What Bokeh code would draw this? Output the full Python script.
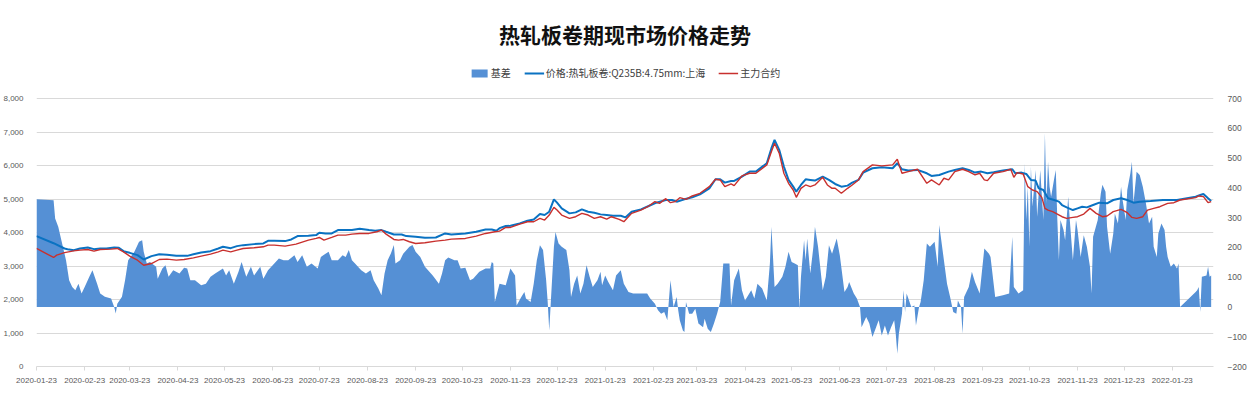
import pandas as pd
from bokeh.plotting import figure
from bokeh.models import (Range1d, LinearAxis, FixedTicker, NumeralTickFormatter,
                          DatetimeTickFormatter, Legend, LegendItem, Label, ColumnDataSource)
from bokeh.embed import file_html
from bokeh.resources import INLINE

title_text = "热轧板卷期现市场价格走势"
basis_label = "基差"
spot_label = "价格:热轧板卷:Q235B:4.75mm:上海"
fut_label = "主力合约"

basis_dates = [
    "2020-01-23", "2020-02-03", "2020-02-04", "2020-02-06", "2020-02-08", "2020-02-11", "2020-02-13", "2020-02-15",
    "2020-02-17", "2020-02-19", "2020-02-21", "2020-02-23", "2020-02-26", "2020-02-28", "2020-03-02", "2020-03-04",
    "2020-03-07", "2020-03-11", "2020-03-13", "2020-03-14", "2020-03-15", "2020-03-18", "2020-03-20", "2020-03-22",
    "2020-03-26", "2020-03-29", "2020-03-31", "2020-04-01", "2020-04-03", "2020-04-05", "2020-04-09", "2020-04-10",
    "2020-04-13", "2020-04-15", "2020-04-17", "2020-04-20", "2020-04-24", "2020-04-27", "2020-04-29", "2020-05-01",
    "2020-05-04", "2020-05-08", "2020-05-11", "2020-05-14", "2020-05-17", "2020-05-22", "2020-05-24", "2020-05-26",
    "2020-05-29", "2020-06-01", "2020-06-03", "2020-06-06", "2020-06-09", "2020-06-11", "2020-06-15", "2020-06-17",
    "2020-06-20", "2020-06-23", "2020-06-27", "2020-06-30", "2020-07-03", "2020-07-07", "2020-07-09", "2020-07-12",
    "2020-07-15", "2020-07-18", "2020-07-22", "2020-07-24", "2020-07-27", "2020-07-29", "2020-07-31", "2020-08-04",
    "2020-08-07", "2020-08-09", "2020-08-11", "2020-08-13", "2020-08-15", "2020-08-19", "2020-08-22", "2020-08-25",
    "2020-08-27", "2020-08-30", "2020-09-01", "2020-09-03", "2020-09-05", "2020-09-07", "2020-09-09", "2020-09-10",
    "2020-09-13", "2020-09-15", "2020-09-19", "2020-09-21", "2020-09-23", "2020-09-26", "2020-09-29", "2020-10-04",
    "2020-10-08", "2020-10-10", "2020-10-12", "2020-10-14", "2020-10-18", "2020-10-20", "2020-10-22", "2020-10-25",
    "2020-10-28", "2020-10-30", "2020-11-03", "2020-11-07", "2020-11-10", "2020-11-11", "2020-11-12", "2020-11-13",
    "2020-11-16", "2020-11-20", "2020-11-23", "2020-11-26", "2020-11-27", "2020-11-30", "2020-12-02", "2020-12-03",
    "2020-12-06", "2020-12-08", "2020-12-10", "2020-12-12", "2020-12-14", "2020-12-16", "2020-12-17", "2020-12-18",
    "2020-12-19", "2020-12-21", "2020-12-22", "2020-12-24", "2020-12-26", "2020-12-29", "2020-12-31", "2021-01-01",
    "2021-01-03", "2021-01-05", "2021-01-07", "2021-01-09", "2021-01-11", "2021-01-13", "2021-01-15", "2021-01-18",
    "2021-01-20", "2021-01-21", "2021-01-23", "2021-01-25", "2021-01-28", "2021-01-30", "2021-02-02", "2021-02-04",
    "2021-02-07", "2021-02-10", "2021-02-19", "2021-02-21", "2021-02-24", "2021-02-26", "2021-02-28", "2021-03-02",
    "2021-03-04", "2021-03-06", "2021-03-07", "2021-03-08", "2021-03-10", "2021-03-11", "2021-03-12", "2021-03-14",
    "2021-03-15", "2021-03-16", "2021-03-18", "2021-03-20", "2021-03-22", "2021-03-24", "2021-03-27", "2021-03-28",
    "2021-03-30", "2021-04-01", "2021-04-03", "2021-04-05", "2021-04-07", "2021-04-09", "2021-04-13", "2021-04-14",
    "2021-04-16", "2021-04-19", "2021-04-21", "2021-04-23", "2021-04-27", "2021-04-29", "2021-05-01", "2021-05-04",
    "2021-05-07", "2021-05-09", "2021-05-10", "2021-05-12", "2021-05-14", "2021-05-17", "2021-05-19", "2021-05-21",
    "2021-05-23", "2021-05-25", "2021-05-27", "2021-05-28", "2021-05-29", "2021-05-31", "2021-06-01", "2021-06-02",
    "2021-06-04", "2021-06-06", "2021-06-07", "2021-06-09", "2021-06-12", "2021-06-14", "2021-06-16", "2021-06-18",
    "2021-06-20", "2021-06-21", "2021-06-23", "2021-06-26", "2021-06-28", "2021-06-29", "2021-07-02", "2021-07-04",
    "2021-07-06", "2021-07-07", "2021-07-10", "2021-07-12", "2021-07-14", "2021-07-16", "2021-07-18", "2021-07-20",
    "2021-07-22", "2021-07-24", "2021-07-26", "2021-07-28", "2021-07-29", "2021-07-30", "2021-07-31", "2021-08-02",
    "2021-08-03", "2021-08-04", "2021-08-05", "2021-08-08", "2021-08-10", "2021-08-11", "2021-08-13", "2021-08-14",
    "2021-08-16", "2021-08-18", "2021-08-20", "2021-08-23", "2021-08-25", "2021-08-26", "2021-08-29", "2021-08-31",
    "2021-09-02", "2021-09-04", "2021-09-06", "2021-09-07", "2021-09-09", "2021-09-10", "2021-09-11", "2021-09-14",
    "2021-09-16", "2021-09-18", "2021-09-21", "2021-09-24", "2021-09-27", "2021-09-28", "2021-09-30", "2021-10-01",
    "2021-10-06", "2021-10-10", "2021-10-12", "2021-10-13", "2021-10-16", "2021-10-19", "2021-10-20", "2021-10-21",
    "2021-10-22", "2021-10-23", "2021-10-24", "2021-10-25", "2021-10-27", "2021-10-28", "2021-10-30", "2021-11-01",
    "2021-11-02", "2021-11-03", "2021-11-04", "2021-11-05", "2021-11-06", "2021-11-08", "2021-11-09", "2021-11-10",
    "2021-11-11", "2021-11-12", "2021-11-14", "2021-11-15", "2021-11-17", "2021-11-18", "2021-11-20", "2021-11-21",
    "2021-11-22", "2021-11-23", "2021-11-25", "2021-11-27", "2021-11-29", "2021-12-01", "2021-12-02", "2021-12-03",
    "2021-12-06", "2021-12-08", "2021-12-09", "2021-12-11", "2021-12-12", "2021-12-14", "2021-12-16", "2021-12-17",
    "2021-12-19", "2021-12-21", "2021-12-22", "2021-12-24", "2021-12-25", "2021-12-27", "2021-12-28", "2021-12-29",
    "2021-12-31", "2022-01-02", "2022-01-04", "2022-01-06", "2022-01-08", "2022-01-10", "2022-01-11", "2022-01-13",
    "2022-01-14", "2022-01-16", "2022-01-18", "2022-01-19", "2022-01-20", "2022-01-22", "2022-01-24", "2022-01-26",
    "2022-01-27", "2022-01-28", "2022-02-07", "2022-02-08", "2022-02-09", "2022-02-10", "2022-02-11", "2022-02-14",
    "2022-02-15", "2022-02-16", "2022-02-17",
]
basis_values = [
    362, 358, 297, 269, 224, 157, 90, 67,
    56, 78, 45, 67, 101, 123, 78, 45,
    34, 28, 0, -22, 11, 34, 90, 157,
    185, 219, 224, 185, 146, 151, 135, 95,
    129, 140, 101, 123, 112, 132, 129, 90,
    90, 73, 78, 101, 112, 129, 106, 123,
    78, 118, 151, 101, 135, 106, 135, 95,
    123, 140, 163, 157, 157, 174, 151, 174,
    135, 146, 129, 168, 179, 185, 157, 157,
    174, 168, 191, 157, 146, 123, 112, 123,
    90, 62, 39, 112, 157, 179, 208, 146,
    157, 179, 202, 208, 185, 168, 135, 106,
    78, 112, 157, 166, 157, 157, 129, 132,
    90, 95, 118, 129, 129, 151, 146, 17,
    78, 73, 129, 106, 5, 33, 50, 28,
    17, 78, 157, 207, 191, 90, 17, -79,
    17, 202, 252, 213, 202, 191, 123, 33,
    78, 106, 45, 78, 140, 101, 67, 90,
    118, 73, 106, 84, 56, 106, 123, 78,
    50, 45, 45, 28, 11, -11, -23, -17,
    -45, 90, 45, 0, 33, -11, -45, -79,
    -84, 17, -23, -23, -6, -56, -68, -40,
    -73, -84, -56, -23, 17, 146, 146, 5,
    90, 129, 56, 22, 56, 28, 78, 62,
    22, 146, 269, 67, 78, 101, 135, 185,
    151, 146, 140, -8, 101, 224, 157, 230,
    112, 202, 269, 202, 56, 101, 207, 179,
    213, 230, 174, 50, 67, 84, 45, 28,
    0, -68, -34, -56, -101, -73, -45, -96,
    -62, -96, -68, -45, -90, -157, -90, -23,
    56, -17, 45, 0, 5, -62, 0, 17,
    90, 213, 202, 219, 135, 275, 157, 78,
    33, -17, -23, 22, 0, -90, 33, 67,
    118, 84, 45, 196, 179, 168, 78, 33,
    39, 45, 236, 67, 45, 56, 482, 292,
    404, 202, 471, 337, 460, 303, 460, 292,
    584, 348, 488, 404, 370, 432, 460, 292,
    157, 292, 258, 224, 370, 292, 157, 224,
    292, 258, 168, 241, 202, 135, 45, 236,
    292, 382, 410, 387, 269, 179, 247, 314,
    280, 404, 359, 292, 393, 449, 488, 348,
    454, 443, 404, 348, 280, 303, 202, 168,
    247, 280, 258, 202, 168, 135, 146, 129,
    146, 0, 50, 56, 67, -17, 101, 106,
    135, 101, 106,
]

spot_dates = [
    "2020-01-23", "2020-02-03", "2020-02-10", "2020-02-12", "2020-02-16", "2020-02-20", "2020-02-25", "2020-02-29",
    "2020-03-04", "2020-03-08", "2020-03-13", "2020-03-16", "2020-03-19", "2020-03-23", "2020-03-28", "2020-04-01",
    "2020-04-06", "2020-04-11", "2020-04-16", "2020-04-22", "2020-04-29", "2020-05-03", "2020-05-08", "2020-05-14",
    "2020-05-19", "2020-05-22", "2020-05-27", "2020-05-31", "2020-06-04", "2020-06-11", "2020-06-17", "2020-06-20",
    "2020-06-24", "2020-07-01", "2020-07-05", "2020-07-09", "2020-07-16", "2020-07-21", "2020-07-23", "2020-07-27",
    "2020-07-31", "2020-08-04", "2020-08-09", "2020-08-13", "2020-08-18", "2020-08-24", "2020-08-28", "2020-09-01",
    "2020-09-04", "2020-09-09", "2020-09-14", "2020-09-17", "2020-09-23", "2020-09-29", "2020-10-06", "2020-10-12",
    "2020-10-16", "2020-10-25", "2020-11-01", "2020-11-07", "2020-11-11", "2020-11-14", "2020-11-16", "2020-11-20",
    "2020-11-23", "2020-11-29", "2020-12-04", "2020-12-08", "2020-12-12", "2020-12-15", "2020-12-18", "2020-12-21",
    "2020-12-23", "2020-12-26", "2020-12-31", "2021-01-04", "2021-01-08", "2021-01-12", "2021-01-16", "2021-01-20",
    "2021-01-24", "2021-01-28", "2021-02-02", "2021-02-05", "2021-02-09", "2021-02-15", "2021-02-20", "2021-02-25",
    "2021-03-03", "2021-03-07", "2021-03-10", "2021-03-15", "2021-03-20", "2021-03-25", "2021-03-31", "2021-04-04",
    "2021-04-07", "2021-04-10", "2021-04-14", "2021-04-16", "2021-04-21", "2021-04-26", "2021-04-30", "2021-05-07",
    "2021-05-10", "2021-05-12", "2021-05-15", "2021-05-18", "2021-05-21", "2021-05-24", "2021-05-26", "2021-05-29",
    "2021-06-01", "2021-06-04", "2021-06-07", "2021-06-12", "2021-06-16", "2021-06-20", "2021-06-24", "2021-06-28",
    "2021-07-01", "2021-07-05", "2021-07-08", "2021-07-14", "2021-07-20", "2021-07-27", "2021-07-30", "2021-08-02",
    "2021-08-06", "2021-08-12", "2021-08-18", "2021-08-21", "2021-08-26", "2021-09-01", "2021-09-05", "2021-09-10",
    "2021-09-14", "2021-09-18", "2021-09-22", "2021-09-26", "2021-09-30", "2021-10-06", "2021-10-12", "2021-10-14",
    "2021-10-18", "2021-10-21", "2021-10-24", "2021-10-27", "2021-10-29", "2021-11-01", "2021-11-04", "2021-11-08",
    "2021-11-11", "2021-11-13", "2021-11-16", "2021-11-20", "2021-11-23", "2021-11-26", "2021-11-29", "2021-12-03",
    "2021-12-07", "2021-12-12", "2021-12-16", "2021-12-21", "2021-12-25", "2021-12-29", "2022-01-02", "2022-01-09",
    "2022-01-17", "2022-01-26", "2022-02-07", "2022-02-10", "2022-02-12", "2022-02-15", "2022-02-17",
]
spot_values = [
    3892, 3680, 3523, 3503, 3473, 3523, 3553, 3503,
    3523, 3523, 3553, 3543, 3443, 3393, 3324, 3194,
    3294, 3353, 3334, 3303, 3303, 3353, 3403, 3443,
    3523, 3573, 3533, 3593, 3623, 3653, 3673, 3753,
    3753, 3743, 3793, 3892, 3902, 3922, 3992, 3972,
    3972, 4072, 4072, 4072, 4112, 4072, 4052, 4072,
    4022, 3942, 3942, 3892, 3872, 3842, 3852, 3972,
    3942, 3972, 4022, 4092, 4092, 4052, 4130, 4192,
    4200, 4271, 4351, 4391, 4551, 4521, 4621, 4990,
    4890, 4720, 4571, 4601, 4690, 4621, 4591, 4541,
    4521, 4501, 4501, 4451, 4621, 4690, 4790, 4890,
    4970, 4970, 4920, 4990, 5050, 5140, 5319, 5589,
    5589, 5489, 5539, 5539, 5668, 5818, 5818, 6068,
    6517, 6766, 6467, 5968, 5569, 5369, 5219, 5419,
    5589, 5569, 5549, 5668, 5569, 5449, 5369, 5399,
    5489, 5569, 5788, 5918, 5948, 5918, 6068, 5888,
    5848, 5868, 5768, 5688, 5718, 5818, 5868, 5918,
    5868, 5788, 5818, 5768, 5798, 5848, 5888, 5768,
    5788, 5748, 5569, 5549, 5319, 5269, 5020, 4970,
    4920, 4820, 4750, 4670, 4720, 4770, 4750, 4820,
    4890, 4870, 4970, 5020, 4970, 4890, 4920, 4940,
    4970, 4970, 5070, 5120, 5150, 5020, 4940,
]

fut_dates = [
    "2020-01-23", "2020-02-03", "2020-02-05", "2020-02-10", "2020-02-16", "2020-02-20", "2020-02-25", "2020-02-29",
    "2020-03-04", "2020-03-11", "2020-03-15", "2020-03-19", "2020-03-23", "2020-03-28", "2020-04-01", "2020-04-06",
    "2020-04-11", "2020-04-16", "2020-04-22", "2020-04-27", "2020-05-03", "2020-05-08", "2020-05-14", "2020-05-19",
    "2020-05-22", "2020-05-27", "2020-05-31", "2020-06-04", "2020-06-11", "2020-06-17", "2020-06-20", "2020-06-24",
    "2020-07-01", "2020-07-08", "2020-07-16", "2020-07-21", "2020-07-23", "2020-07-26", "2020-07-31", "2020-08-04",
    "2020-08-09", "2020-08-13", "2020-08-18", "2020-08-24", "2020-08-29", "2020-09-01", "2020-09-04", "2020-09-09",
    "2020-09-12", "2020-09-15", "2020-09-19", "2020-09-23", "2020-09-29", "2020-10-06", "2020-10-12", "2020-10-16",
    "2020-10-25", "2020-11-01", "2020-11-07", "2020-11-13", "2020-11-16", "2020-11-20", "2020-11-23", "2020-11-29",
    "2020-12-04", "2020-12-08", "2020-12-12", "2020-12-15", "2020-12-18", "2020-12-21", "2020-12-23", "2020-12-26",
    "2020-12-31", "2021-01-04", "2021-01-08", "2021-01-12", "2021-01-16", "2021-01-20", "2021-01-24", "2021-01-27",
    "2021-02-01", "2021-02-04", "2021-02-09", "2021-02-15", "2021-02-20", "2021-02-24", "2021-02-27", "2021-03-03",
    "2021-03-06", "2021-03-09", "2021-03-12", "2021-03-16", "2021-03-20", "2021-03-25", "2021-03-31", "2021-04-04",
    "2021-04-07", "2021-04-10", "2021-04-14", "2021-04-16", "2021-04-21", "2021-04-26", "2021-04-30", "2021-05-07",
    "2021-05-10", "2021-05-12", "2021-05-15", "2021-05-18", "2021-05-21", "2021-05-24", "2021-05-26", "2021-05-29",
    "2021-06-01", "2021-06-04", "2021-06-07", "2021-06-12", "2021-06-15", "2021-06-18", "2021-06-20", "2021-06-24",
    "2021-06-28", "2021-07-01", "2021-07-05", "2021-07-08", "2021-07-14", "2021-07-20", "2021-07-27", "2021-07-30",
    "2021-08-02", "2021-08-06", "2021-08-12", "2021-08-18", "2021-08-21", "2021-08-26", "2021-08-29", "2021-09-01",
    "2021-09-05", "2021-09-10", "2021-09-14", "2021-09-18", "2021-09-21", "2021-09-24", "2021-09-26", "2021-09-30",
    "2021-10-06", "2021-10-11", "2021-10-13", "2021-10-15", "2021-10-19", "2021-10-22", "2021-10-25", "2021-10-28",
    "2021-10-31", "2021-11-02", "2021-11-04", "2021-11-07", "2021-11-10", "2021-11-13", "2021-11-16", "2021-11-20",
    "2021-11-23", "2021-11-27", "2021-12-01", "2021-12-05", "2021-12-09", "2021-12-12", "2021-12-16", "2021-12-21",
    "2021-12-25", "2021-12-28", "2021-12-31", "2022-01-04", "2022-01-07", "2022-01-11", "2022-01-15", "2022-01-20",
    "2022-01-24", "2022-01-28", "2022-02-07", "2022-02-09", "2022-02-12", "2022-02-15", "2022-02-17",
]
fut_values = [
    3523, 3254, 3324, 3400, 3453, 3473, 3493, 3443,
    3493, 3503, 3523, 3423, 3294, 3174, 3024, 3074,
    3194, 3204, 3174, 3194, 3244, 3294, 3353, 3423,
    3473, 3423, 3473, 3523, 3543, 3573, 3623, 3623,
    3593, 3653, 3773, 3823, 3852, 3773, 3852, 3922,
    3922, 3952, 3972, 3972, 4022, 4072, 3952, 3793,
    3773, 3793, 3723, 3673, 3693, 3743, 3773, 3803,
    3823, 3892, 3972, 4022, 4040, 4152, 4151, 4251,
    4321, 4321, 4421, 4371, 4521, 4750, 4670, 4521,
    4421, 4471, 4571, 4521, 4421, 4471, 4401, 4471,
    4391, 4321, 4571, 4670, 4790, 4920, 4870, 5010,
    4890, 4920, 5040, 4990, 5090, 5170, 5369, 5589,
    5569, 5369, 5449, 5400, 5688, 5768, 5768, 6018,
    6417, 6666, 6367, 5768, 5469, 5269, 5050, 5319,
    5419, 5369, 5419, 5648, 5419, 5319, 5319, 5170,
    5319, 5419, 5569, 5818, 6018, 5988, 6018, 6187,
    5768, 5818, 5888, 5469, 5569, 5419, 5619, 5569,
    5818, 5888, 5818, 5718, 5768, 5569, 5549, 5768,
    5818, 5888, 5648, 5788, 5748, 5369, 5269, 5219,
    5050, 4720, 4670, 4621, 4551, 4471, 4421, 4451,
    4471, 4551, 4720, 4571, 4471, 4491, 4621, 4690,
    4591, 4451, 4421, 4471, 4670, 4720, 4770, 4870,
    4890, 4970, 5040, 5090, 5070, 4890, 4920,
]

x_tick_labels = [
    "2020-01-23", "2020-02-23", "2020-03-23", "2020-04-23", "2020-05-23", "2020-06-23", "2020-07-23",
    "2020-08-23", "2020-09-23", "2020-10-23", "2020-11-23", "2020-12-23", "2021-01-23", "2021-02-23",
    "2021-03-23", "2021-04-23", "2021-05-23", "2021-06-23", "2021-07-23", "2021-08-23", "2021-09-23",
    "2021-10-23", "2021-11-23", "2021-12-23", "2022-01-23",
]
left_ticks = [0, 1000, 2000, 3000, 4000, 5000, 6000, 7000, 8000]
right_ticks = [-200, -100, 0, 100, 200, 300, 400, 500, 600, 700]

TICK_FONT = "Liberation Sans"
CJK_FONT = "Noto Sans CJK SC"

# layout (pixels): the plot frame runs from the top of the canvas down to the x axis,
# so that title and legend sit inside it; the value axes cover only the lower 268 px.
W, H = 1250, 394
BORDER_L, BORDER_R, BORDER_B = 36, 37, 28
FRAME_H = H - BORDER_B
AXIS_H = 268
FRAME_W = W - BORDER_L - BORDER_R
frac = FRAME_H / AXIS_H
left_top = left_ticks[0] + (left_ticks[-1] - left_ticks[0]) * frac
right_top = right_ticks[0] + (right_ticks[-1] - right_ticks[0]) * frac

basis_src = ColumnDataSource(dict(date=pd.to_datetime(basis_dates), value=basis_values))
spot_src = ColumnDataSource(dict(date=pd.to_datetime(spot_dates), value=spot_values))
fut_src = ColumnDataSource(dict(date=pd.to_datetime(fut_dates), value=fut_values))

p = figure(width=W, height=H, x_axis_type="datetime", output_backend="svg", toolbar_location=None,
           title=None,
           x_range=Range1d(pd.Timestamp("2020-01-23"), pd.Timestamp("2022-02-18 12:00")),
           y_range=Range1d(left_ticks[0], left_top),
           min_border_left=BORDER_L, min_border_right=BORDER_R, min_border_top=0,
           min_border_bottom=BORDER_B)
p.extra_y_ranges = {"right": Range1d(right_ticks[0], right_top)}
p.outline_line_color = None
p.background_fill_color = "white"
p.border_fill_color = "white"

area = p.varea(x="date", y1=0, y2="value", source=basis_src, y_range_name="right",
               fill_color="#5590D5", fill_alpha=1.0)
spot = p.line(x="date", y="value", source=spot_src, line_color="#0A72C2", line_width=2)
fut = p.line(x="date", y="value", source=fut_src, line_color="#C8302E", line_width=1.4)

ly = p.yaxis[0]
ly.ticker = FixedTicker(ticks=left_ticks)
ly.formatter = NumeralTickFormatter(format="0,0")
ly.axis_line_color = None
ly.major_tick_line_color = None
ly.minor_tick_line_color = None
ly.major_label_standoff = 7
ly.major_label_text_font = TICK_FONT
ly.major_label_text_font_size = "8px"
ly.major_label_text_color = "#595959"

ry = LinearAxis(y_range_name="right", ticker=FixedTicker(ticks=right_ticks))
ry.axis_line_color = None
ry.major_tick_line_color = None
ry.minor_tick_line_color = None
ry.major_label_standoff = 8
ry.major_label_text_font = TICK_FONT
ry.major_label_text_font_size = "8.5px"
ry.major_label_text_color = "#595959"
p.add_layout(ry, "right")

xa = p.xaxis[0]
xa.ticker = FixedTicker(ticks=[pd.Timestamp(s).value / 1e6 for s in x_tick_labels])
fmt = "%Y-%m-%d"
xa.formatter = DatetimeTickFormatter(milliseconds=fmt, seconds=fmt, minsec=fmt, minutes=fmt,
                                     hourmin=fmt, hours=fmt, days=fmt, months=fmt, years=fmt,
                                     strip_leading_zeros=False)
xa.axis_line_color = "#D9D9D9"
xa.major_tick_line_color = "#D9D9D9"
xa.major_tick_out = 4
xa.major_tick_in = 0
xa.minor_tick_line_color = None
xa.major_label_standoff = 7
xa.major_label_text_font = TICK_FONT
xa.major_label_text_font_size = "8px"
xa.major_label_text_color = "#595959"

p.xgrid.visible = False
p.ygrid.ticker = FixedTicker(ticks=left_ticks)
p.ygrid.grid_line_color = "#D9D9D9"
p.ygrid.grid_line_width = 1

legend = Legend(items=[LegendItem(label=basis_label, renderers=[area]),
                       LegendItem(label=spot_label, renderers=[spot]),
                       LegendItem(label=fut_label, renderers=[fut])],
                orientation="horizontal", location="top_center",
                border_line_color=None, background_fill_alpha=0,
                padding=0, margin=65, spacing=13, glyph_width=20, glyph_height=10,
                label_height=12, label_standoff=2,
                label_text_font=CJK_FONT, label_text_font_size="10px",
                label_text_color="#404040")
p.add_layout(legend, "center")

title = Label(x=FRAME_W / 2, y=FRAME_H - 33, x_units="screen", y_units="screen", text=title_text,
              text_align="center", text_baseline="middle", text_font=CJK_FONT,
              text_font_style="bold", text_font_size="21px", text_color="#111111")
p.add_layout(title)

open("out.html", "w").write(file_html(p, INLINE))
